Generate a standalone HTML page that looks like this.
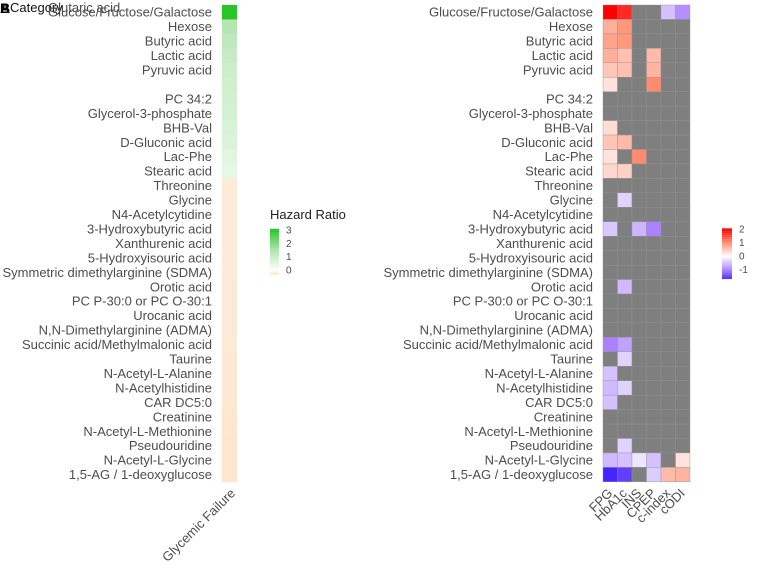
<!DOCTYPE html>
<html><head><meta charset="utf-8"><style>
body{margin:0;background:#fff;width:780px;height:570px;overflow:hidden;font-family:"Liberation Sans",sans-serif}
svg text{font-family:"Liberation Sans",sans-serif}
</style></head><body>
<svg id="c" width="780" height="570">
<text x="0" y="13" font-size="14" font-weight="bold" fill="#000">A</text>
<text x="0" y="13" font-size="14" font-weight="bold" fill="#000">B</text>
<text x="10" y="12" font-size="13" fill="#111">Category</text>
<text x="48" y="12" font-size="13" fill="#4d4d4d">Glutaric acid</text>
</svg>
<script>
const metabolites=["Glucose/Fructose/Galactose","Hexose","Butyric acid","Lactic acid","Pyruvic acid","","PC 34:2","Glycerol-3-phosphate","BHB-Val","D-Gluconic acid","Lac-Phe","Stearic acid","Threonine","Glycine","N4-Acetylcytidine","3-Hydroxybutyric acid","Xanthurenic acid","5-Hydroxyisouric acid","Symmetric dimethylarginine (SDMA)","Orotic acid","PC P-30:0 or PC O-30:1","Urocanic acid","N,N-Dimethylarginine (ADMA)","Succinic acid/Methylmalonic acid","Taurine","N-Acetyl-L-Alanine","N-Acetylhistidine","CAR DC5:0","Creatinine","N-Acetyl-L-Methionine","Pseudouridine","N-Acetyl-L-Glycine","1,5-AG / 1-deoxyglucose"];
const rightRows=metabolites.slice();
const hazard=[3.0,1.4,1.2,1.05,0.95,0.9,0.85,0.8,0.75,0.65,0.55,0.45,-0.22,-0.22,-0.22,-0.22,-0.22,-0.22,-0.22,-0.23,-0.23,-0.23,-0.23,-0.24,-0.25,-0.25,-0.26,-0.26,-0.27,-0.27,-0.28,-0.28,-0.28];
const traits=["FPG","HbA1c","INS","CPEP","c-index","cODI"];
const N=null;
const assoc=[
[2.0,1.7,N,N,-0.5,-0.9],[0.7,0.9,N,N,N,N],[0.8,0.9,N,N,N,N],[0.7,0.55,N,0.6,N,N],[0.5,0.55,N,0.65,N,N],
[0.25,N,N,1.0,N,N],[N,N,N,N,N,N],[N,N,N,N,N,N],[0.3,N,N,N,N,N],[0.5,0.6,N,N,N,N],
[0.25,N,1.0,N,N,N],[0.35,0.4,N,N,N,N],[N,N,N,N,N,N],[N,-0.35,N,N,N,N],[N,N,N,N,N,N],
[-0.45,N,-0.6,-1.0,N,N],[N,N,N,N,N,N],[N,N,N,N,N,N],[N,N,N,N,N,N],[N,-0.55,N,N,N,N],
[N,N,N,N,N,N],[N,N,N,N,N,N],[N,N,N,N,N,N],[-1.0,-0.75,N,N,N,N],[N,-0.35,N,N,N,N],
[-0.5,N,N,N,N,N],[-0.55,-0.35,N,N,N,N],[-0.5,N,N,N,N,N],[N,N,N,N,N,N],[N,N,N,N,N,N],
[N,-0.35,N,N,N,N],[-0.55,-0.5,-0.2,-0.5,N,0.25],[-1.7,-1.5,N,-0.4,0.6,0.65]];
const hrTicks=[3,2,1,0];
const assocTicks=[2,1,0,-1];

const svg=document.getElementById('c');
const NS='http://www.w3.org/2000/svg';
function mk(t,a){const e=document.createElementNS(NS,t);for(const k in a)e.setAttribute(k,a[k]);svg.appendChild(e);return e;}
function mix(c1,c2,t){t=Math.max(0,Math.min(1,t));return 'rgb('+c1.map((v,i)=>Math.round(v+(c2[i]-v)*t)).join(',')+')';}
const top0=5,rowH=14.45;
const yRow=i=>top0+i*rowH;
function hrColor(v){if(v<0)return mix([255,255,255],[253,230,205],-v/0.28);
 return v<=1.5?mix([255,255,255],[175,228,172],v/1.5):mix([175,228,172],[40,196,40],(v-1.5)/1.5);}
function asColor(v){if(v===null)return '#7f7f7f';
 if(v>=0)return v<=1?mix([255,255,255],[255,140,110],v):mix([255,140,110],[255,0,0],v-1);
 return v>=-1?mix([255,255,255],[170,130,255],-v):mix([170,130,255],[60,30,255],(-v-1)/0.75);}

const lx=222,lw=15;
metabolites.forEach((m,i)=>{
 const r=mk('rect',{x:lx,y:yRow(i),width:lw,height:rowH+0.3,fill:hrColor(hazard[i])});
 
 
 if(m){const t=mk('text',{x:212,y:yRow(i)+rowH/2+4.5,'font-size':13,fill:'#4d4d4d','text-anchor':'end'});t.textContent=m;
 
 }
});
const gx=mk('text',{x:0,y:0,'font-size':13,fill:'#4d4d4d','text-anchor':'end',transform:'translate(236,494) rotate(-45)'});gx.textContent='Glycemic Failure';



const lt=mk('text',{x:270,y:219,'font-size':13,fill:'#222'});lt.textContent='Hazard Ratio';


const hrY=v=>270-(v)*(13.3);
for(let v=3.1;v>-0.3;v-=0.05){const r=mk('rect',{x:270,y:hrY(v),width:9,height:0.8,fill:hrColor(v)});
 
 }
hrTicks.forEach(v=>{const t=mk('text',{x:286,y:hrY(v)+3.5,'font-size':10,fill:'#4d4d4d'});t.textContent=v;
 
 });

const rx=603,cw=14.5;
rightRows.forEach((m,i)=>{
 traits.forEach((tr,j)=>{const r=mk('rect',{x:rx+j*cw,y:yRow(i),width:cw,height:rowH,fill:asColor(assoc[i][j]),stroke:'#939393','stroke-width':0.4});
  
  });
 if(m){const t=mk('text',{x:593,y:yRow(i)+rowH/2+4.5,'font-size':13,fill:'#4d4d4d','text-anchor':'end'});t.textContent=m;
 
 }
});
traits.forEach((tr,j)=>{const cx=rx+j*cw+cw/2+3;const t=mk('text',{x:0,y:0,'font-size':13,fill:'#4d4d4d','text-anchor':'end',transform:'translate('+cx+',494) rotate(-45)'});t.textContent=tr;
 
 });

const asY=v=>256-v*13.5;
for(let v=2.05;v>-1.7;v-=0.05){const r=mk('rect',{x:722,y:asY(v),width:10,height:0.8,fill:asColor(v)});
 
 }
assocTicks.forEach(v=>{const t=mk('text',{x:739,y:asY(v)+3.5,'font-size':10,fill:'#4d4d4d'});t.textContent=v;
 
 });
</script>
</body></html>
